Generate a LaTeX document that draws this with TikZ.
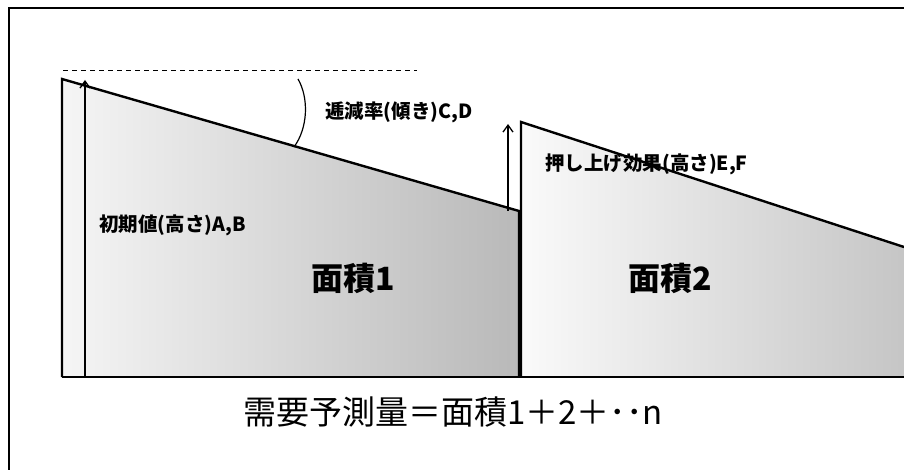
\documentclass[tikz,border=0pt]{standalone}
\usepackage{fontspec}
\setmainfont{Noto Sans CJK JP}
\usetikzlibrary{arrows.meta}
\tikzset{
  edge/.style={draw=black, line width=2.4pt},
  frameline/.style={draw=black, line width=2pt},
  shadeA/.style={left color=gray!8, right color=gray!55},
  shadeB/.style={left color=gray!4, right color=gray!45},
  hint/.style={anchor=west, inner sep=0pt, font=\fontsize{19.5}{19.5}\selectfont\bfseries},
  areatxt/.style={inner sep=0pt, font=\fontsize{32}{32}\selectfont\bfseries},
  formula/.style={inner sep=0pt, anchor=west, font=\fontsize{33}{33}\selectfont},
  uparrow/.style={draw=black, line width=1.3pt, -{Straight Barb[length=7pt,width=10pt,line width=1.3pt]}},
}
\begin{document}
\begin{tikzpicture}[x=1pt,y=-1pt]
\useasboundingbox (0,0) rectangle (904,470);
\fill[white] (0,0) rectangle (904,470);
% coordinates
\coordinate (t1top) at (62,79);
\coordinate (t1end) at (519,211);
\coordinate (t1br) at (519,377);
\coordinate (t1bl) at (62,377);
\coordinate (t2top) at (521,122);
\coordinate (t2end) at (904,247);
\coordinate (t2br) at (904,377);
\coordinate (t2bl) at (521,377);
% frame
\coordinate (fl) at (9,470);
\coordinate (ftl) at (9,8);
\coordinate (ftr) at (904,8);
\draw[frameline] (fl) -- (ftl) -- (ftr);
% areas
\path[shadeA] (t1top) -- (t1end) -- (t1br) -- (t1bl) -- cycle;
\path[shadeB] (t2top) -- (t2end) -- (t2br) -- (t2bl) -- cycle;
\draw[edge] (t1bl) -- (t1top) -- (t1end) -- (t1br);
\draw[edge] (t2bl) -- (t2top) -- (t2end);
\draw[edge, line width=2.6pt] (t1bl) -- (t2br);
% dashed reference line
\coordinate (dl) at (63,71);
\coordinate (dr) at (417,71);
\draw[black, line width=1pt, dash pattern=on 5pt off 4pt] (dl) -- (dr);
% angle arc
\coordinate (arcA) at (298,79);
\coordinate (arcB) at (294,147);
\draw[black, line width=1.2pt] (arcA) .. controls (309,98) and (308,128) .. (arcB);
% arrows
\coordinate (a1s) at (85,377);
\coordinate (a1e) at (85,80);
\draw[uparrow] (a1s) -- (a1e);
\coordinate (a2s) at (508,211);
\coordinate (a2e) at (508,124);
\draw[uparrow] (a2s) -- (a2e);
% labels
\node[hint] (lblCD) at (325,112) {逓減率(傾き)C,D};
\node[hint] (lblAB) at (99,225) {初期値(高さ)A,B};
\node[hint] (lblEF) at (545,164) {押し上げ効果(高さ)E,F};
\node[areatxt] (area1) at (353,278) {面積1};
\node[areatxt] (area2) at (670,278) {面積2};
\node[formula] (sum) at (243,412) {需要予測量＝面積1＋2＋･･n};
\end{tikzpicture}
\end{document}
